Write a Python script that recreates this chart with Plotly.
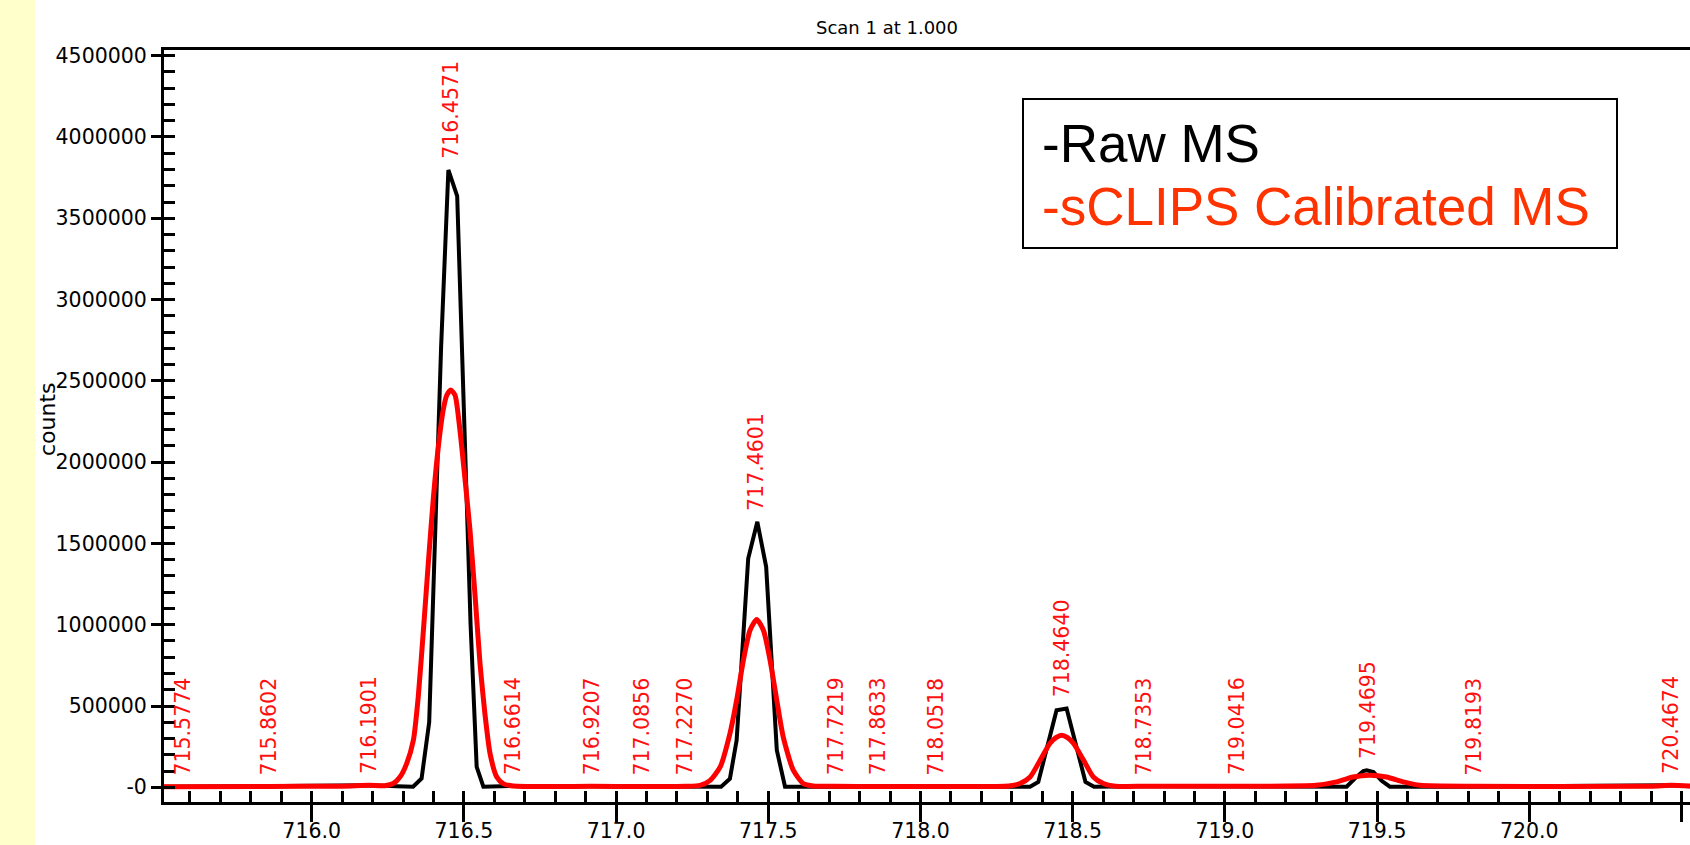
import plotly.graph_objects as go

# ---------------- data ----------------
raw_mz = [715.515, 715.58, 715.86, 716.10, 716.19, 716.28, 716.333, 716.361, 716.386, 716.425,
          716.449, 716.478, 716.522, 716.542, 716.564, 716.66, 716.92, 717.09, 717.23, 717.345,
          717.374, 717.396, 717.434, 717.464, 717.493, 717.528, 717.555, 717.72, 717.86, 718.05,
          718.36, 718.387, 718.447, 718.480, 718.542, 718.570, 718.74, 719.04, 719.37, 719.40,
          719.43, 719.455, 719.466, 719.488, 719.515, 719.542, 719.82, 720.40, 720.467, 720.53]
raw_counts = [3000, 4000, 4000, 6000, 12000, 6000, 3000, 54000, 400000, 2700000,
              3797000, 3637000, 1000000, 125000, 4000, 8000, 6000, 5000, 5000, 4000,
              53000, 289000, 1407000, 1633000, 1356000, 228000, 4000, 6000, 4000, 4000,
              3000, 33000, 474000, 484000, 33000, 3000, 6000, 4000, 3000, 4000,
              60000, 100000, 105000, 94000, 40000, 4000, 4000, 6000, 12000, 6000]

cal_mz = [715.515, 715.86, 716.10, 716.19, 716.24, 716.268, 716.290, 716.312, 716.334, 716.350,
          716.367, 716.383, 716.400, 716.416, 716.432, 716.444, 716.457, 716.471, 716.487, 716.504,
          716.520, 716.537, 716.553, 716.569, 716.586, 716.608, 716.629, 716.662, 716.92, 717.09,
          717.23, 717.276, 717.309, 717.342, 717.374, 717.396, 717.418, 717.440, 717.462, 717.484,
          717.506, 717.528, 717.549, 717.582, 717.615, 717.648, 717.72, 717.86, 718.05, 718.29,
          718.327, 718.360, 718.393, 718.425, 718.445, 718.464, 718.483, 718.503, 718.536, 718.568,
          718.601, 718.64, 718.74, 719.04, 719.30, 719.367, 719.421, 719.477, 719.531, 719.586,
          719.64, 719.82, 720.40, 720.467, 720.53]
cal_counts = [4000, 5000, 7000, 12000, 10000, 23000, 63000, 146000, 289000, 556000,
              966000, 1377000, 1786000, 2094000, 2320000, 2412000, 2443000, 2412000, 2197000, 1889000,
              1582000, 1171000, 761000, 454000, 207000, 63000, 23000, 8000, 6000, 5000,
              6000, 12000, 43000, 125000, 330000, 535000, 780000, 966000, 1032000, 966000,
              780000, 535000, 310000, 105000, 23000, 8000, 6000, 5000, 5000, 8000,
              23000, 63000, 166000, 269000, 305000, 320000, 305000, 269000, 166000, 63000,
              23000, 7000, 6000, 6000, 12000, 33000, 63000, 74000, 63000, 33000,
              12000, 6000, 7000, 12000, 7000]

peak_labels = ["715.5774", "715.8602", "716.1901", "716.4571", "716.6614", "716.9207",
               "717.0856", "717.2270", "717.4601", "717.7219", "717.8633", "718.0518",
               "718.4640", "718.7353", "719.0416", "719.4695", "719.8193", "720.4674"]
label_counts = [5000, 5000, 12000, 3797000, 8000, 6000,
                5000, 6000, 1633000, 6000, 5000, 5000,
                484000, 6000, 5000, 105000, 5000, 12000]

x_tick_vals = [716.0, 716.5, 717.0, 717.5, 718.0, 718.5, 719.0, 719.5, 720.0, 720.5]
x_tick_text = ["716.0", "716.5", "717.0", "717.5", "718.0", "718.5", "719.0", "719.5", "720.0", "720.5"]
y_tick_vals = [0, 500000, 1000000, 1500000, 2000000, 2500000, 3000000, 3500000, 4000000, 4500000]
y_tick_text = ["-0", "500000", "1000000", "1500000", "2000000", "2500000", "3000000", "3500000",
               "4000000", "4500000"]

title_text = "Scan 1 at 1.000"
y_title = "counts"
legend_items = ["-Raw MS", "-sCLIPS Calibrated MS"]

# ---------------- layout geometry (pixels) ----------------
W, H = 1690, 845
L, R, T, B = 164, 0, 50, 43
PW, PH = W - L - R, H - T - B
XR = [715.5148, 720.528]
YR = [-90500, 4535000]


def px(xp):
    return (xp - L) / PW


def py(yp):
    return (H - B - yp) / PH


NUM_FONT = "DejaVu Sans"
fig = go.Figure()

fig.add_trace(go.Scatter(x=raw_mz, y=raw_counts, mode="lines",
                         line=dict(color="#000000", width=4), hoverinfo="skip",
                         showlegend=False))
fig.add_trace(go.Scatter(x=cal_mz, y=cal_counts, mode="lines",
                         line=dict(color="#FF0000", width=5, shape="spline", smoothing=0.6),
                         hoverinfo="skip", showlegend=False))
# invisible carrier trace for the inside-tick overlay axes
fig.add_trace(go.Scatter(x=raw_mz[:1], y=raw_counts[:1], mode="markers", xaxis="x2", yaxis="y2",
                         marker=dict(opacity=0), hoverinfo="skip", showlegend=False))

annotations = []
for lab, cnt in zip(peak_labels, label_counts):
    annotations.append(dict(x=float(lab), y=cnt, xref="x", yref="y", text=lab, showarrow=False,
                            textangle=-90, xanchor="center", yanchor="bottom", yshift=9,
                            font=dict(family=NUM_FONT, size=20.5, color="#FF1010")))

annotations.append(dict(x=px(887), y=py(28), xref="paper", yref="paper", text=title_text,
                        showarrow=False, xanchor="center", yanchor="middle",
                        font=dict(family=NUM_FONT, size=18, color="#000000")))
annotations.append(dict(x=px(47), y=py(419), xref="paper", yref="paper", text=y_title,
                        showarrow=False, textangle=-90, xanchor="center", yanchor="middle",
                        font=dict(family=NUM_FONT, size=22, color="#000000")))
annotations.append(dict(x=px(1040), y=py(143), xref="paper", yref="paper", text=legend_items[0],
                        showarrow=False, xanchor="left", yanchor="middle",
                        font=dict(family="Liberation Sans", size=53, color="#000000")))
annotations.append(dict(x=px(1040), y=py(206), xref="paper", yref="paper", text=legend_items[1],
                        showarrow=False, xanchor="left", yanchor="middle",
                        font=dict(family="Liberation Sans", size=53, color="#FF3300")))

shapes = [
    dict(type="rect", xref="paper", yref="paper", x0=px(0), x1=px(35), y0=py(H), y1=py(0),
         fillcolor="#FFFFCC", line=dict(width=0), layer="below"),
    dict(type="rect", xref="paper", yref="paper", x0=px(1023), x1=px(1617), y0=py(248), y1=py(99),
         fillcolor="rgba(0,0,0,0)", line=dict(color="#000000", width=2)),
]

fig.update_layout(
    width=W, height=H,
    margin=dict(l=L, r=R, t=T, b=B, pad=0, autoexpand=False),
    paper_bgcolor="#FFFFFF", plot_bgcolor="#FFFFFF",
    showlegend=False,
    annotations=annotations, shapes=shapes,
    xaxis=dict(range=XR, tickmode="array", tickvals=x_tick_vals, ticktext=x_tick_text,
               ticks="outside", ticklen=17, tickwidth=2.5, tickcolor="#000000",
               ticklabelstandoff=-9,
               showline=True, linewidth=3, linecolor="#000000", mirror=True,
               showgrid=False, zeroline=False, automargin=False,
               tickfont=dict(family=NUM_FONT, size=20.5, color="#000000")),
    yaxis=dict(range=YR, tickmode="array", tickvals=y_tick_vals, ticktext=y_tick_text,
               ticks="outside", ticklen=10, tickwidth=2.5, tickcolor="#000000",
               showline=True, linewidth=3, linecolor="#000000",
               showgrid=False, zeroline=False, automargin=False,
               tickfont=dict(family=NUM_FONT, size=20.5, color="#000000")),
    xaxis2=dict(range=XR, overlaying="x", anchor="y2", side="bottom", automargin=False,
                tickmode="linear", tick0=716.0, dtick=0.1,
                ticks="inside", ticklen=11, tickwidth=2.5, tickcolor="#000000",
                showticklabels=False, showline=False, showgrid=False, zeroline=False),
    yaxis2=dict(range=YR, overlaying="y", anchor="x2", side="left", automargin=False,
                tickmode="linear", tick0=0, dtick=100000,
                ticks="inside", ticklen=11, tickwidth=2.5, tickcolor="#000000",
                showticklabels=False, showline=False, showgrid=False, zeroline=False),
)

fig.write_html("out.html")
